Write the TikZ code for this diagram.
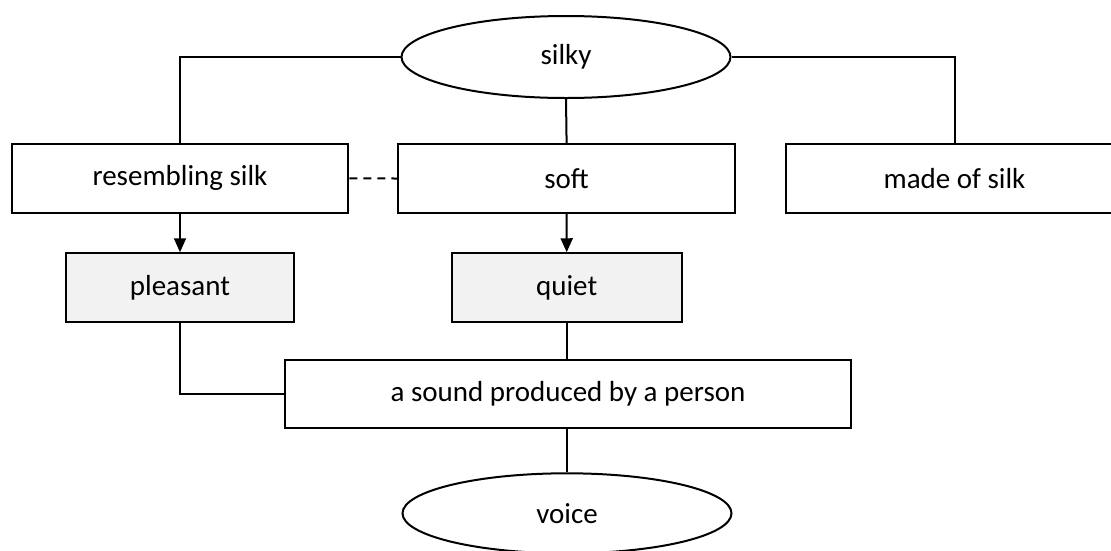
\documentclass[tikz,border=0pt]{standalone}
\usepackage{fontspec}
\setmainfont{Carlito}
\usetikzlibrary{shapes.geometric,arrows.meta}
\begin{document}
\begin{tikzpicture}[x=1pt,y=-1pt,
  every node/.style={font=\fontsize{29}{34}\selectfont, inner sep=0pt},
  oval/.style={draw, line width=2pt, ellipse, minimum width=329pt, minimum height=82pt},
  box/.style={draw, line width=2pt, rectangle, minimum height=68.5pt},
  gbox/.style={box, fill=black!5},
  link/.style={line width=2pt},
  arr/.style={link, -{Triangle[length=14pt,width=12pt]}},
  dashlink/.style={link, dash pattern=on 8pt off 6pt}]
\useasboundingbox (0,0) rectangle (1111,550);
\node[oval] (silky) at (566,57) {silky};
\node[box, minimum width=336.6pt] (resembling) at (180,178.4) {resembling silk};
\node[box, minimum width=336.7pt] (soft) at (566.6,178.5) {soft};
\node[box, minimum width=337pt] (made) at (954.5,178.5) {made of silk};
\node[gbox, minimum width=228.3pt] (pleasant) at (180,287.5) {pleasant};
\node[gbox, minimum width=230pt] (quiet) at (566.7,287.5) {quiet};
\node[box, minimum width=566pt] (sound) at (568,394.2) {a sound produced by a person};
\node[oval, minimum height=80pt] (voice) at (567,513.3) {voice};
\draw[link] (silky.west) -| (resembling.north);
\draw[link] (silky.east) -| (made.north);
\draw[link] (silky.south) -- (soft.north);
\draw[dashlink] (resembling.east) -- (soft.west);
\draw[arr] (resembling.south) -- (pleasant.north);
\draw[arr] (soft.south) -- (quiet.north);
\draw[link] (pleasant.south) |- (sound.west);
\draw[link] (quiet.south) -- (quiet.south |- sound.north);
\draw[link] (sound.south -| voice.north) -- (voice.north);
\end{tikzpicture}
\end{document}
